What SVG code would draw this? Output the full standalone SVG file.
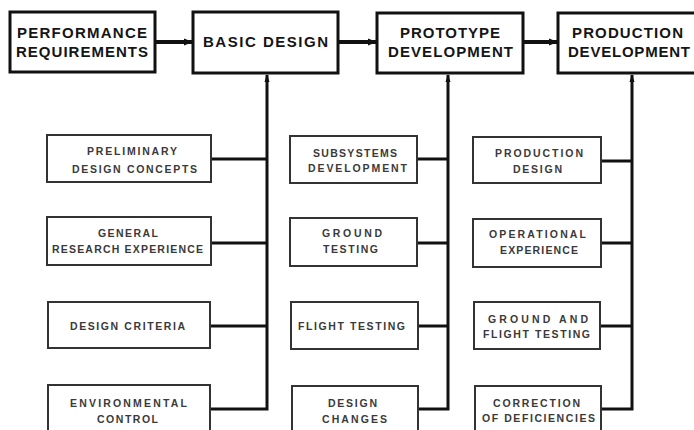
<svg xmlns="http://www.w3.org/2000/svg" width="694" height="430" viewBox="0 0 694 430">
<style>
.main rect{fill:#fff;stroke:#111;stroke-width:3}
.sub rect{fill:#fff;stroke:#333;stroke-width:2}
.main text{font-family:"Liberation Sans",Arial,sans-serif;font-weight:bold;font-size:15px;fill:#151515}
.sub text{font-family:"Liberation Sans",Arial,sans-serif;font-weight:bold;font-size:10.5px;fill:#3a3a3a}
.conn{fill:none;stroke:#111;stroke-width:3}
.flow{fill:none;stroke:#111;stroke-width:4}
</style>
<defs>
<marker id="ah" markerWidth="9" markerHeight="9" refX="8" refY="4.5" orient="auto" markerUnits="userSpaceOnUse">
<path d="M0,1 L9,4.5 L0,8 Z" fill="#111"/>
</marker>
<marker id="av" markerWidth="8" markerHeight="8" refX="7" refY="4" orient="auto" markerUnits="userSpaceOnUse">
<path d="M0,1.5 L8,4 L0,6.5 Z" fill="#111"/>
</marker>
</defs>
<rect width="694" height="430" fill="#fff"/>
<g id="connectors">
<line class="flow" x1="156" y1="42" x2="192" y2="42" marker-end="url(#ah)"/>
<line class="flow" x1="339" y1="42" x2="376" y2="42" marker-end="url(#ah)"/>
<line class="flow" x1="524" y1="42" x2="557" y2="42" marker-end="url(#ah)"/>
<path class="conn" d="M211,409 H267 V75" marker-end="url(#av)"/>
<line class="conn" x1="211" y1="159" x2="267" y2="159"/>
<line class="conn" x1="211" y1="243" x2="267" y2="243"/>
<line class="conn" x1="210" y1="326" x2="267" y2="326"/>
<path class="conn" d="M418,409 H448 V75" marker-end="url(#av)"/>
<line class="conn" x1="417" y1="159" x2="448" y2="159"/>
<line class="conn" x1="417" y1="243" x2="448" y2="243"/>
<line class="conn" x1="418" y1="326" x2="448" y2="326"/>
<path class="conn" d="M601,409 H632 V75" marker-end="url(#av)"/>
<line class="conn" x1="601" y1="161" x2="632" y2="161"/>
<line class="conn" x1="601" y1="243" x2="632" y2="243"/>
<line class="conn" x1="600" y1="326" x2="632" y2="326"/>
</g>
<g id="performance-requirements" class="main">
<rect x="10" y="12" width="145" height="60"/>
<text x="17" y="38" textLength="130">PERFORMANCE</text>
<text x="16" y="57" textLength="132">REQUIREMENTS</text>
</g>
<g id="basic-design" class="main">
<rect x="193" y="12" width="145" height="61"/>
<text x="203" y="47" textLength="125">BASIC DESIGN</text>
</g>
<g id="prototype-development" class="main">
<rect x="377" y="13" width="146" height="60"/>
<text x="400" y="38" textLength="100">PROTOTYPE</text>
<text x="388" y="57" textLength="125">DEVELOPMENT</text>
</g>
<g id="production-development" class="main">
<rect x="558" y="13" width="140" height="60"/>
<text x="572" y="38" textLength="111">PRODUCTION</text>
<text x="568" y="57" textLength="122">DEVELOPMENT</text>
</g>
<g id="preliminary-design-concepts" class="sub">
<rect x="47" y="135" width="164" height="47"/>
<text x="87" y="155" textLength="90">PRELIMINARY</text>
<text x="72" y="173" textLength="125">DESIGN CONCEPTS</text>
</g>
<g id="general-research-experience" class="sub">
<rect x="47" y="217" width="164" height="48"/>
<text x="98" y="237" textLength="60">GENERAL</text>
<text x="52" y="253" textLength="151">RESEARCH EXPERIENCE</text>
</g>
<g id="design-criteria" class="sub">
<rect x="48" y="302" width="162" height="46"/>
<text x="70" y="330" textLength="115">DESIGN CRITERIA</text>
</g>
<g id="environmental-control" class="sub">
<rect x="48" y="385" width="162" height="50"/>
<text x="70" y="407" textLength="117">ENVIRONMENTAL</text>
<text x="97" y="423" textLength="61">CONTROL</text>
</g>
<g id="subsystems-development" class="sub">
<rect x="290" y="136" width="127" height="47"/>
<text x="313" y="157" textLength="84">SUBSYSTEMS</text>
<text x="308" y="172" textLength="99">DEVELOPMENT</text>
</g>
<g id="ground-testing" class="sub">
<rect x="290" y="218" width="127" height="48"/>
<text x="322" y="237" textLength="60">GROUND</text>
<text x="323" y="253" textLength="55">TESTING</text>
</g>
<g id="flight-testing" class="sub">
<rect x="291" y="302" width="127" height="47"/>
<text x="298" y="330" textLength="107">FLIGHT TESTING</text>
</g>
<g id="design-changes" class="sub">
<rect x="292" y="386" width="126" height="50"/>
<text x="328" y="407" textLength="49">DESIGN</text>
<text x="322" y="423" textLength="65">CHANGES</text>
</g>
<g id="production-design" class="sub">
<rect x="473" y="137" width="128" height="46"/>
<text x="495" y="157" textLength="88">PRODUCTION</text>
<text x="513" y="173" textLength="49">DESIGN</text>
</g>
<g id="operational-experience" class="sub">
<rect x="473" y="219" width="128" height="48"/>
<text x="489" y="238" textLength="97">OPERATIONAL</text>
<text x="500" y="254" textLength="78">EXPERIENCE</text>
</g>
<g id="ground-and-flight-testing" class="sub">
<rect x="474" y="302" width="126" height="47"/>
<text x="488" y="323" textLength="100">GROUND AND</text>
<text x="483" y="338" textLength="107">FLIGHT TESTING</text>
</g>
<g id="correction-of-deficiencies" class="sub">
<rect x="475" y="386" width="126" height="50"/>
<text x="493" y="407" textLength="87">CORRECTION</text>
<text x="482" y="422" textLength="113">OF DEFICIENCIES</text>
</g>
</svg>
